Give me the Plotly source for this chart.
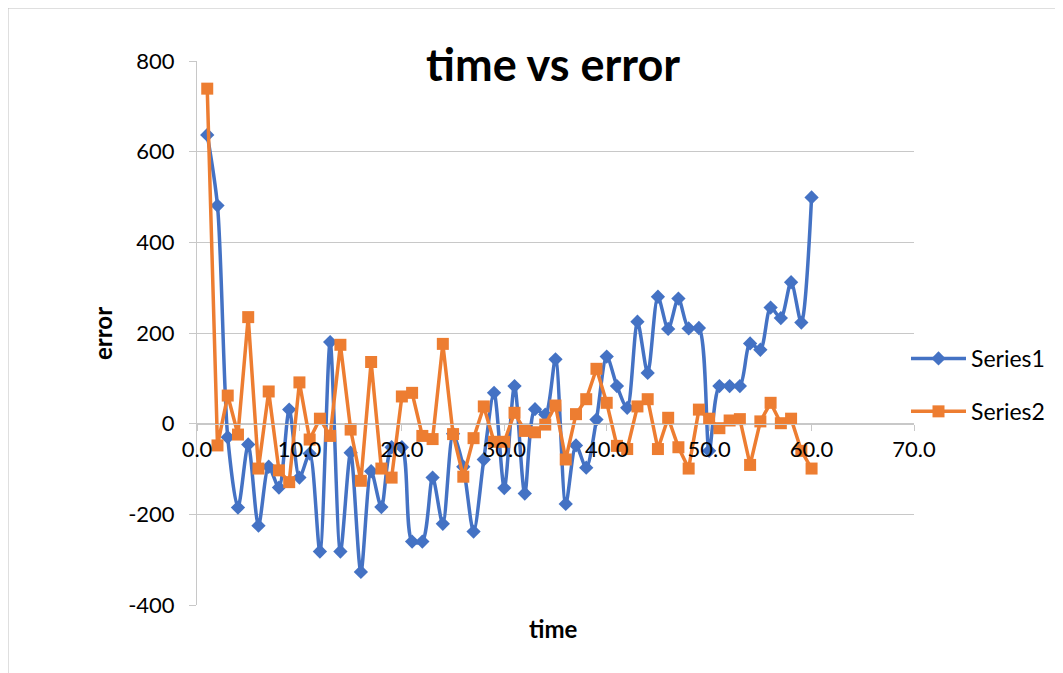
import plotly.graph_objects as go

time = [1, 2, 3, 4, 5, 6, 7, 8, 9, 10, 11, 12, 13, 14, 15, 16, 17, 18, 19, 20,
        21, 22, 23, 24, 25, 26, 27, 28, 29, 30, 31, 32, 33, 34, 35, 36, 37, 38, 39, 40,
        41, 42, 43, 44, 45, 46, 47, 48, 49, 50, 51, 52, 53, 54, 55, 56, 57, 58, 59, 60]

series1 = [637, 481, -30, -185, -46, -225, -95, -141, 31, -119,
           -66, -282, 180, -282, -64, -327, -105, -184, -52, -52,
           -260, -260, -119, -221, -22, -95, -238, -79, 68, -142,
           83, -154, 32, 20, 142, -177, -48, -97, 9, 148,
           83, 35, 225, 112, 280, 209, 276, 210, 211, -60,
           83, 83, 83, 177, 163, 256, 233, 312, 223, 499]

series2 = [739, -48, 62, -24, 235, -99, 71, -103, -129, 91,
           -35, 11, -27, 174, -13, -126, 136, -99, -119, 60,
           68, -27, -34, 176, -23, -117, -32, 38, -40, -40,
           24, -16, -19, -2, 40, -79, 21, 54, 121, 46,
           -49, -56, 38, 54, -56, 13, -52, -99, 31, 11,
           -10, 7, 10, -91, 5, 46, 1, 11, -60, -99]

y_tickvals = [-400, -200, 0, 200, 400, 600, 800]
y_ticktext = ["-400", "-200", "0", "200", "400", "600", "800"]

FONT = "Lato"
BLUE = "#4472C4"
ORANGE = "#ED7D31"
GRID = "#c8c8c8"

fig = go.Figure()
fig.add_trace(go.Scatter(
    x=time, y=series1, name="Series1", mode="lines+markers",
    line=dict(color=BLUE, width=3.5, shape="spline", smoothing=0.8),
    marker=dict(symbol="diamond", size=11, color=BLUE),
    legendgroup="a",
))
fig.add_trace(go.Scatter(
    x=time, y=series2, name="Series2", mode="lines+markers",
    line=dict(color=ORANGE, width=3.5),
    marker=dict(symbol="square", size=12, color=ORANGE),
    legendgroup="b",
))

OFF = 8  # page body margin
W, H = 1063 - OFF, 673 - OFF
L = 197 - OFF
T = 61 - OFF
R = W - (914 - OFF)
B = H - (605 - OFF)
pw, ph = W - L - R, H - T - B

def px(x):
    return (x - OFF - L) / pw

def py(y):
    return (H - B - (y - OFF)) / ph

fig.update_layout(
    width=W, height=H,
    margin=dict(l=L, r=R, t=T, b=B, pad=0),
    paper_bgcolor="white", plot_bgcolor="white",
    font=dict(family=FONT, size=22, color="#000000"),
    showlegend=True,
    legend=dict(x=px(906), y=py(385), xanchor="left", yanchor="middle",
                font=dict(family=FONT, size=23, color="#000000"),
                tracegroupgap=20, traceorder="grouped",
                bgcolor="rgba(0,0,0,0)", itemwidth=55),
    xaxis=dict(range=[0, 70], dtick=10, tick0=0, tickformat=".1f",
               anchor="free", position=1/3,
               showline=True, linecolor=GRID, linewidth=1,
               ticks="outside", ticklen=6, tickcolor=GRID,
               showgrid=False, zeroline=False,
               tickfont=dict(family=FONT, size=22, color="#000000")),
    yaxis=dict(range=[-400, 800], tickmode="array",
               tickvals=y_tickvals, ticktext=y_ticktext,
               showline=True, linecolor=GRID, linewidth=1,
               ticks="outside", ticklen=7, tickcolor=GRID,
               ticklabelstandoff=10,
               showgrid=True, gridcolor=GRID, gridwidth=1,
               zeroline=False,
               tickfont=dict(family=FONT, size=22, color="#000000")),
    annotations=[
        dict(text="<b>time vs error</b>", x=px(553), y=py(64), xref="paper", yref="paper",
             showarrow=False, xanchor="center", yanchor="middle",
             font=dict(family=FONT, size=45, color="#000000")),
        dict(text="<b>time</b>", x=px(553), y=py(628), xref="paper", yref="paper",
             showarrow=False, xanchor="center", yanchor="middle",
             font=dict(family=FONT, size=24, color="#000000")),
        dict(text="<b>error</b>", x=px(102), y=py(333), xref="paper", yref="paper",
             showarrow=False, xanchor="center", yanchor="middle", textangle=-90,
             font=dict(family=FONT, size=24, color="#000000")),
    ],
    shapes=[
        dict(type="rect", xref="paper", yref="paper",
             x0=px(8), x1=px(1200), y0=py(800), y1=py(8),
             line=dict(color="#bfbfbf", width=1), fillcolor="rgba(0,0,0,0)", layer="below"),
    ],
)

fig.write_html("out.html")
